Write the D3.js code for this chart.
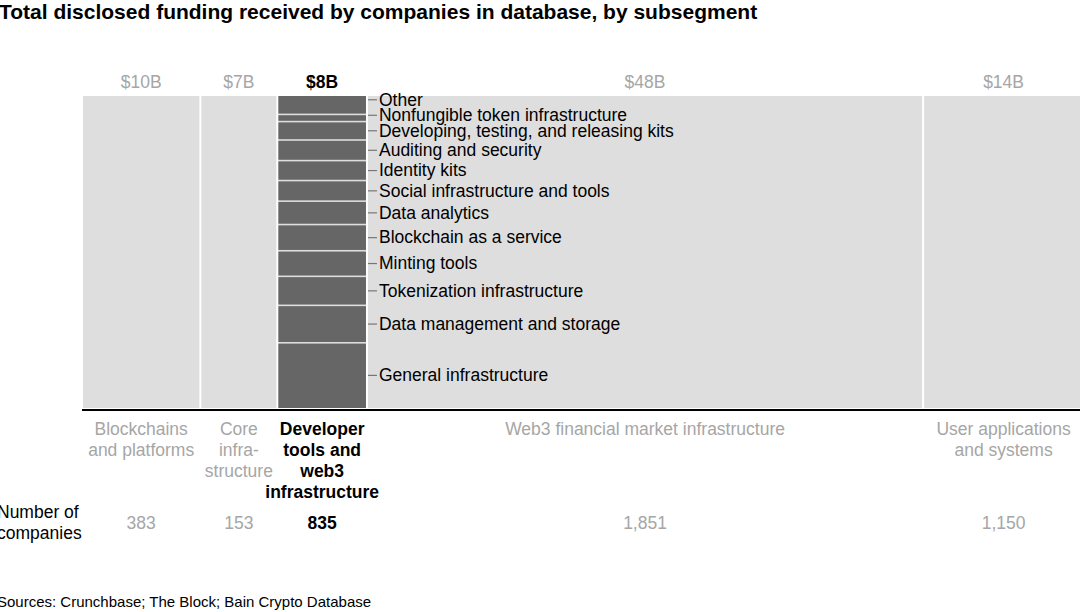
<!DOCTYPE html>
<html>
<head>
<meta charset="utf-8">
<script src="https://cdn.jsdelivr.net/npm/d3@7"></script>
<style>
  body { margin: 0; background: #fff; }
  svg text { font-family: "Liberation Sans", Arial, sans-serif; }
</style>
</head>
<body>
<div id="chart"></div>
<script>
// segments, left to right ($B, read from the column widths)
const segments = ['Blockchains and platforms', 'Core infrastructure', 'Developer tools and web3 infrastructure',
  'Web3 financial market infrastructure', 'User applications and systems'];
const segmentLines = [
  ['Blockchains', 'and platforms'],
  ['Core', 'infra-', 'structure'],
  ['Developer', 'tools and', 'web3', 'infrastructure'],
  ['Web3 financial market infrastructure'],
  ['User applications', 'and systems'],
];
const funding = [10.3, 6.7, 7.8, 48.4, 14];
const fundingLabels = ['$10B', '$7B', '$8B', '$48B', '$14B'];
const companies = ['383', '153', '835', '1,851', '1,150'];
const highlight = 2;

// breakdown of the highlighted column, top to bottom (% of its funding)
const subsegments = ['Other', 'Nonfungible token infrastructure', 'Developing, testing, and releasing kits',
  'Auditing and security', 'Identity kits', 'Social infrastructure and tools', 'Data analytics',
  'Blockchain as a service', 'Minting tools', 'Tokenization infrastructure',
  'Data management and storage', 'General infrastructure'];
const subShares = [5.9, 2.3, 5.9, 6.6, 6.4, 6.6, 7.5, 8.4, 8.2, 9.3, 12.0, 20.9];

const width = 1080;
const height = 612;
const plotLeft = 82;
const plotTop = 96;
const plotBottom = 408;
const fs = 17.5;

const total = d3.sum(funding);
const x = d3.scaleLinear().domain([0, total]).range([plotLeft, 1084]);
const y = d3.scaleLinear().domain([0, d3.sum(subShares)]).range([plotTop, plotBottom]);

const starts = [0, ...d3.cumsum(funding)];

const svg = d3.select('#chart').append('svg')
  .attr('width', width)
  .attr('height', height);

svg.append('text')
  .attr('x', -1)
  .attr('y', 19)
  .attr('font-size', 21)
  .attr('font-weight', 'bold')
  .attr('fill', '#000')
  .text('Total disclosed funding received by companies in database, by subsegment');

// grey background columns
svg.append('g').selectAll('rect')
  .data(funding)
  .join('rect')
  .attr('x', (d, i) => x(starts[i]) + 1)
  .attr('y', plotTop)
  .attr('width', (d, i) => x(starts[i] + d) - x(starts[i]) - 2)
  .attr('height', plotBottom - plotTop)
  .attr('fill', '#dedede');

// funding labels on top
svg.append('g').selectAll('text')
  .data(fundingLabels)
  .join('text')
  .attr('x', (d, i) => x(starts[i] + funding[i] / 2))
  .attr('y', 88)
  .attr('text-anchor', 'middle')
  .attr('font-size', fs)
  .attr('font-weight', (d, i) => (i === highlight ? 'bold' : 'normal'))
  .attr('fill', (d, i) => (i === highlight ? '#000' : '#a6a6a6'))
  .text((d) => d);

// stacked breakdown of highlighted column
const subStarts = [0, ...d3.cumsum(subShares)];
const hx0 = x(starts[highlight]) + 1;
const hx1 = x(starts[highlight] + funding[highlight]) - 1;

svg.append('g').selectAll('rect')
  .data(subShares)
  .join('rect')
  .attr('x', hx0)
  .attr('y', (d, i) => y(subStarts[i]) + (i === 0 ? 0 : 0.8))
  .attr('width', hx1 - hx0)
  .attr('height', (d, i) => y(subStarts[i] + d) - y(subStarts[i]) - (i === 0 ? 0 : 0.8)
    - (i === subShares.length - 1 ? 0 : 0.8))
  .attr('fill', '#666666');

// label positions: segment middles, pushed up so they don't collide
const labelY = subShares.map((d, i) => y(subStarts[i] + d / 2));
for (let i = labelY.length - 2; i >= 0; i -= 1) {
  if (labelY[i + 1] - labelY[i] < 15.5) labelY[i] = labelY[i + 1] - 15.5;
}

const lab = svg.append('g').selectAll('g')
  .data(subsegments)
  .join('g')
  .attr('transform', (d, i) => `translate(${hx1 + 1},${labelY[i]})`);

lab.append('line')
  .attr('x1', 1)
  .attr('x2', 10)
  .attr('stroke', '#777')
  .attr('stroke-width', 1.2);

lab.append('text')
  .attr('x', 12)
  .attr('dy', '0.33em')
  .attr('font-size', fs)
  .attr('fill', '#000')
  .text((d) => d);

// baseline
svg.append('line')
  .attr('x1', plotLeft)
  .attr('x2', width)
  .attr('y1', 410)
  .attr('y2', 410)
  .attr('stroke', '#000')
  .attr('stroke-width', 2.2);

// segment names
const names = svg.append('g').selectAll('text')
  .data(segmentLines)
  .join('text')
  .attr('x', (d, i) => x(starts[i] + funding[i] / 2))
  .attr('y', 435)
  .attr('text-anchor', 'middle')
  .attr('font-size', fs)
  .attr('font-weight', (d, i) => (i === highlight ? 'bold' : 'normal'))
  .attr('fill', (d, i) => (i === highlight ? '#000' : '#a6a6a6'));

names.selectAll('tspan')
  .data((d) => d)
  .join('tspan')
  .attr('x', function () { return this.parentNode.getAttribute('x'); })
  .attr('dy', (d, j) => (j === 0 ? 0 : 21))
  .text((d) => d);

// number of companies row
const rowLabel = svg.append('text')
  .attr('x', -3)
  .attr('y', 518)
  .attr('font-size', fs)
  .attr('fill', '#000');
rowLabel.append('tspan').attr('x', -3).text('Number of');
rowLabel.append('tspan').attr('x', -3).attr('dy', 21).text('companies');

svg.append('g').selectAll('text')
  .data(companies)
  .join('text')
  .attr('x', (d, i) => x(starts[i] + funding[i] / 2))
  .attr('y', 529)
  .attr('text-anchor', 'middle')
  .attr('font-size', fs)
  .attr('font-weight', (d, i) => (i === highlight ? 'bold' : 'normal'))
  .attr('fill', (d, i) => (i === highlight ? '#000' : '#a6a6a6'))
  .text((d) => d);

svg.append('text')
  .attr('x', -3)
  .attr('y', 607)
  .attr('font-size', 15)
  .attr('fill', '#000')
  .text('Sources: Crunchbase; The Block; Bain Crypto Database');
</script>
</body>
</html>
